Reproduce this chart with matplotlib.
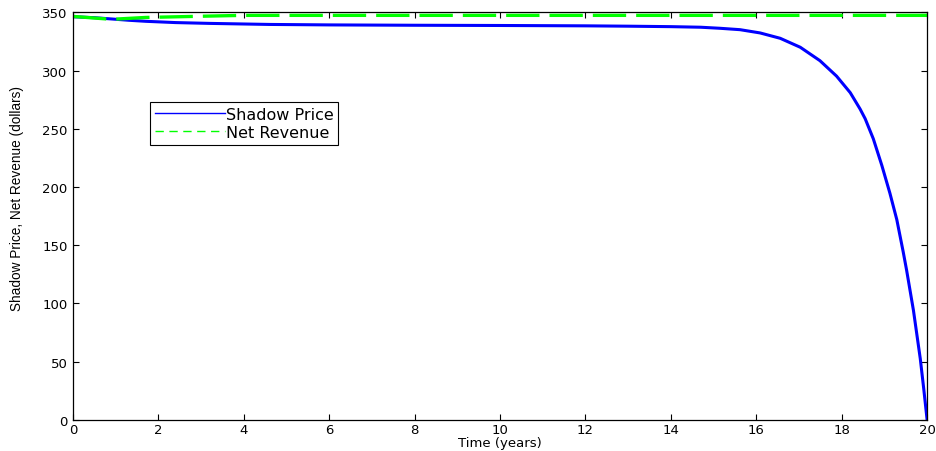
import numpy as np
from matplotlib import pyplot as plt

# shadow price curve
t_price = [0, 0.5, 0.87, 1.3, 1.7, 2.4, 3.2, 4.6, 6, 8, 10, 12, 13, 14, 14.7,
           15.15, 15.62, 16.09, 16.56, 17.03, 17.49, 17.88, 18.2, 18.43, 18.55,
           18.74, 18.94, 19.13, 19.29, 19.44, 19.52, 19.68, 19.84, 19.92, 20]
shadow_price = [346.2, 345.4, 344.4, 343.2, 342.3, 341.2, 340.5, 339.6, 339.2,
                338.9, 338.7, 338.4, 338.1, 337.7, 337.2, 336.3, 335.1, 332.3,
                327.7, 320.0, 308.5, 295.2, 281.0, 267.0, 258.6, 241.4, 218.5,
                194.5, 172.0, 144.3, 128.5, 94.0, 52.5, 27.0, 0]

# net revenue curve
t_rev = [0, 0.9, 1.7, 3.2, 4.0, 20]
net_revenue = [346.5, 344.0, 345.6, 346.8, 347.4, 347.4]

x_ticks = [0, 2, 4, 6, 8, 10, 12, 14, 16, 18, 20]
y_ticks = [0, 50, 100, 150, 200, 250, 300, 350]

plt.rcParams['font.family'] = ['DejaVu Sans']

fig = plt.figure(figsize=(9.36, 4.52), dpi=100)
ax = fig.add_axes([0.078, 0.069, 0.9125, 0.9015])

ax.plot(t_price, shadow_price, color='#0000ff', lw=2.2, label='Shadow Price')
ax.plot(t_rev, net_revenue, color='#00ff00', lw=2.4, dashes=(10, 3),
        label='Net Revenue')

ax.set_xlim(0, 20)
ax.set_ylim(0, 350)
ax.set_xticks(x_ticks)
ax.set_yticks(y_ticks)
ax.tick_params(direction='in', top=True, right=True, length=4, width=0.8,
               labelsize=9.5)
ax.tick_params(axis='x', pad=2)
ax.tick_params(axis='y', pad=4)
for s in ax.spines.values():
    s.set_linewidth(0.9)

ax.set_xlabel('Time (years)', fontsize=9.5, labelpad=0)
ax.set_ylabel('Shadow Price, Net Revenue (dollars)', fontsize=9.8,
              family='Liberation Sans')
ax.yaxis.set_label_coords(-0.057, 0.545)

leg = ax.legend(loc='upper left', bbox_to_anchor=(0.09, 0.78), borderaxespad=0,
                fancybox=False, edgecolor='black', framealpha=1, fontsize=11.5,
                handlelength=4.4, handletextpad=0.05, labelspacing=0.2,
                borderpad=0.3)
leg.get_frame().set_linewidth(0.8)
lines = leg.get_lines()
lines[0].set_linewidth(1)
lines[1].set_linewidth(1)
lines[1].set_dashes((6, 4))

fig.savefig('out.png', dpi=100)
